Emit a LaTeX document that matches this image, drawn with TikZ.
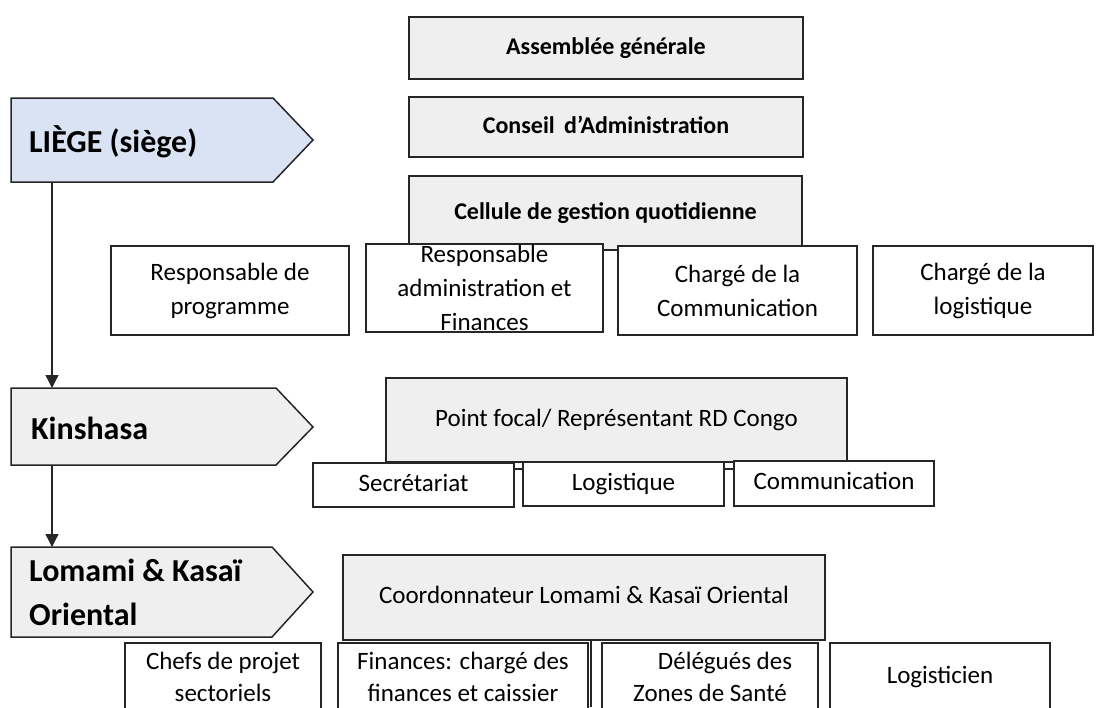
\documentclass[tikz,border=0pt]{standalone}
\usepackage{fontspec}
\setmainfont{Carlito}
\usepackage{xcolor}
\usetikzlibrary{arrows.meta}

\definecolor{grisfond}{RGB}{239,239,239}
\definecolor{bleufond}{RGB}{218,227,243}
\definecolor{trait}{RGB}{38,38,38}

\begin{document}
\begin{tikzpicture}[x=1pt,y=1pt,yscale=-1,xscale=1,
    grisbox/.style={draw=trait, line width=1.5pt, fill=grisfond, inner sep=0pt, align=center,
      font=\fontsize{24}{30}\selectfont\bfseries},
    rolebox/.style={draw=trait, line width=1.5pt, fill=white, inner sep=0pt, align=center,
      font=\fontsize{25}{34}\selectfont},
    pfbox/.style={grisbox, font=\fontsize{25}{34}\selectfont},
    uneligne/.style={text height=18pt, text depth=6pt},
    chev/.style={draw=trait, line width=1.5pt},
    lbl/.style={anchor=west, inner sep=0pt, align=left, font=\fontsize{32}{44}\selectfont\bfseries},
    fleche/.style={draw=trait, line width=1.3pt, -{Triangle[length=13pt,width=13pt]}}]
  \clip (0,0) rectangle (1099,707);

  %Shape: Chevron [id:liege]
  \draw [chev, fill=bleufond] (11,98) -- (273,98) -- (313,140) -- (273,182) -- (11,182) -- cycle ;
  %Shape: Chevron [id:kinshasa]
  \draw [chev, fill=grisfond] (11,388) -- (276,388) -- (313,427) -- (276,465) -- (11,465) -- cycle ;
  %Shape: Chevron [id:lomami]
  \draw [chev, fill=grisfond] (11,547) -- (272,547) -- (313,592) -- (272,637) -- (11,637) -- cycle ;

  % Text Node
  \node [lbl] (liege) at (29,142) {LIÈGE (siège)};
  % Text Node
  \node [lbl] (kin) at (31,428) {Kinshasa};
  % Text Node
  \node [lbl] (lomami) at (29,592) {Lomami \& Kasaï\\Oriental};

  \coordinate (liegeB) at (52,182);
  \coordinate (kinT) at (52,388);
  \coordinate (kinB) at (52,465);
  \coordinate (lomT) at (52,547);
  %Straight Lines [id:f1]
  \draw [fleche] (liegeB) -- (kinT) ;
  %Straight Lines [id:f2]
  \draw [fleche] (kinB) -- (lomT) ;

  % Liège
  \node [grisbox, uneligne, minimum width=394pt, minimum height=62pt] (ag) at (606,48) {Assemblée générale};
  \node [grisbox, uneligne, minimum width=394pt, minimum height=60pt] (ca) at (606,127) {Conseil\, d’Administration};
  \node [grisbox, uneligne, minimum width=393pt, minimum height=74pt] (cg) at (605.5,213) {Cellule de gestion quotidienne};
  \node [rolebox, minimum width=238pt, minimum height=89pt] (rp) at (230,290.5) {Responsable de\\programme};
  \node [rolebox, minimum width=237pt, minimum height=88pt] (ra) at (484.5,288) {Responsable\\administration et\\Finances};
  \node [rolebox, minimum width=239pt, minimum height=89pt] (cc) at (737.5,290.5) {Chargé de la\\Communication};
  \node [rolebox, minimum width=220pt, minimum height=89pt] (cl) at (983,290.5) {Chargé de la\\logistique};

  % Kinshasa
  \node [pfbox, uneligne, minimum width=461pt, minimum height=84pt] (pf) at (616.5,420) {Point focal/ Représentant RD Congo};
  \coordinate (kl) at (514,469);
  \coordinate (kr) at (734,469);
  %Straight Lines [id:k1]
  \draw [draw=trait, line width=1.5pt] (kl) -- (kr) ;
  \node [rolebox, uneligne, minimum width=201pt, minimum height=44pt] (secr) at (413.5,485) {Secrétariat};
  \node [rolebox, uneligne, minimum width=201pt, minimum height=44pt] (logk) at (623.5,484) {Logistique};
  \node [rolebox, uneligne, minimum width=200pt, minimum height=45pt] (comm) at (834,483.5) {Communication};

  % Lomami & Kasaï Oriental
  \node [pfbox, uneligne, minimum width=482pt, minimum height=85pt] (coord) at (584,597.5) {Coordonnateur Lomami \& Kasaï Oriental};
  \coordinate (lz) at (591,707);
  %Straight Lines [id:l1]
  \draw [draw=trait, line width=1.5pt] (coord.south -| lz) -- (lz) ;
  \node [rolebox, minimum width=196pt, minimum height=68pt, font=\fontsize{25}{32}\selectfont] (chefs) at (223,677) {Chefs de projet\\sectoriels};
  \node [rolebox, minimum width=250pt, minimum height=68pt, font=\fontsize{25}{32}\selectfont] (fin) at (463,677) {Finances: chargé des\\finances et caissier};
  \node [rolebox, minimum width=216pt, minimum height=68pt, font=\fontsize{25}{32}\selectfont] (deleg) at (710,677) {\hspace*{30pt}Délégués des\\Zones de Santé};
  \node [rolebox, uneligne, minimum width=220pt, minimum height=68pt] (logi) at (940,677) {Logisticien};
\end{tikzpicture}
\end{document}
